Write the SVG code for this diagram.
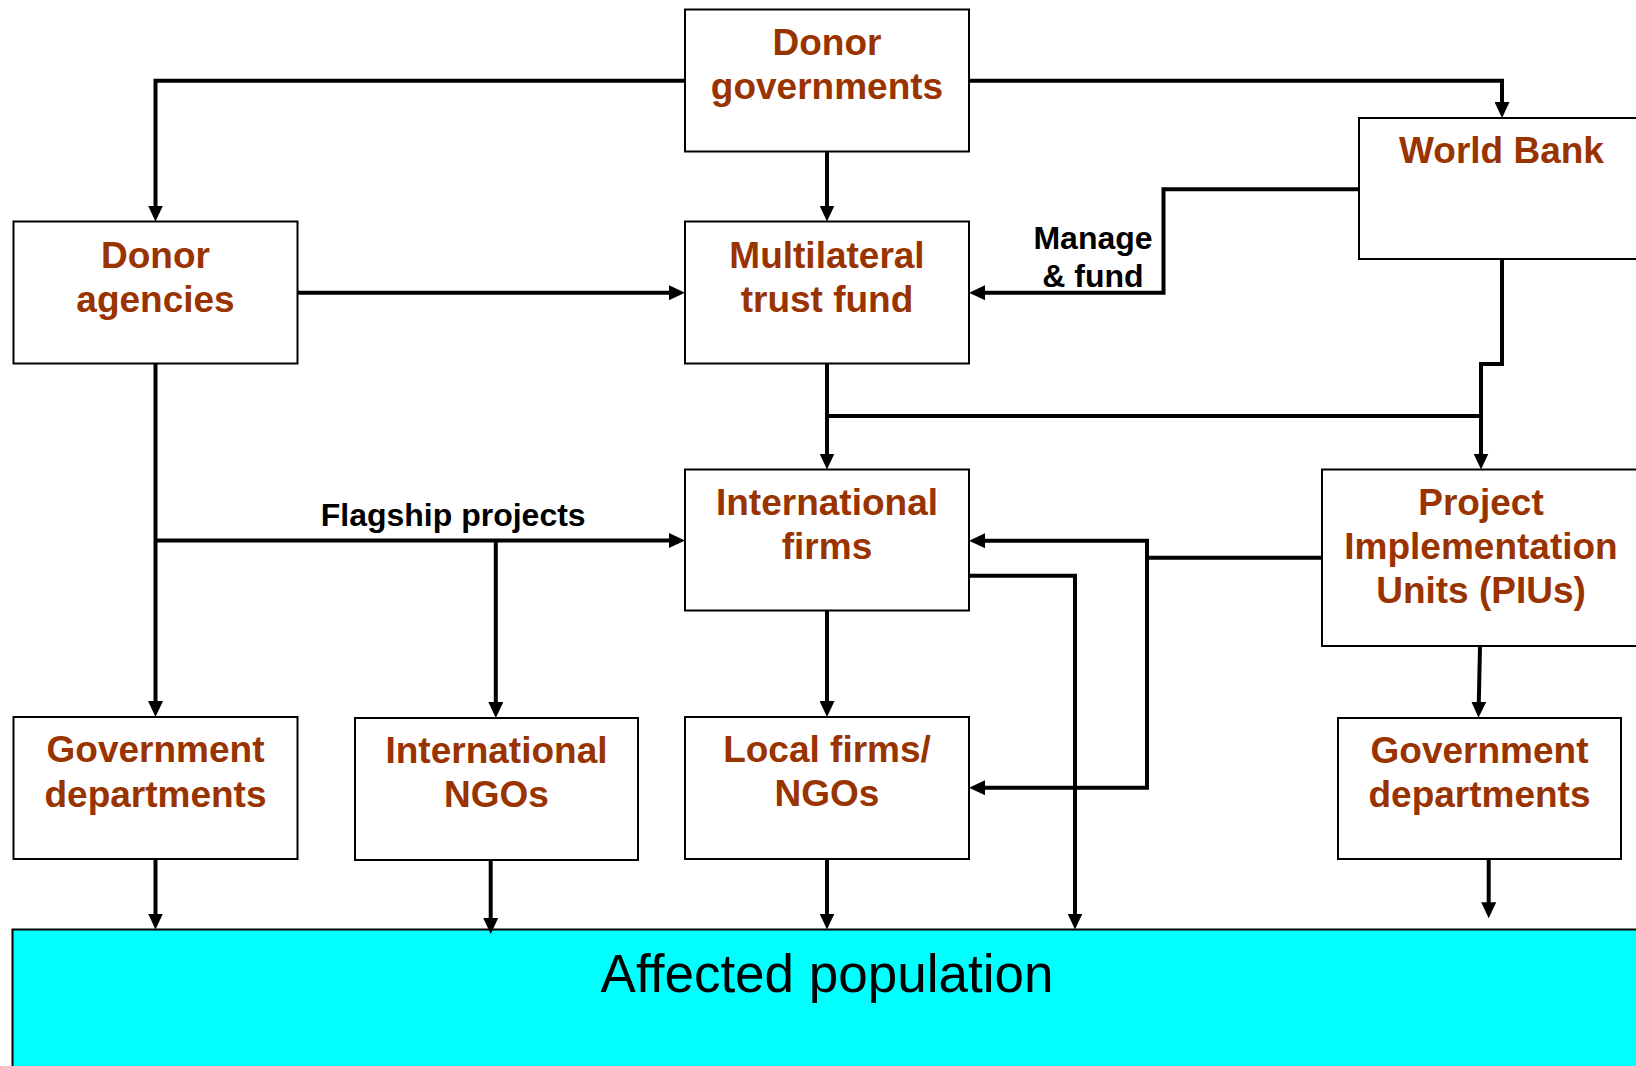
<svg xmlns="http://www.w3.org/2000/svg" width="1636" height="1066" viewBox="0 0 1636 1066">
  <style>
    .box { fill: #ffffff; stroke: #000000; stroke-width: 2; }
    .name { font-family: "Liberation Sans", Arial, sans-serif; font-weight: bold; font-size: 37px; fill: #993300; text-anchor: middle; }
    .lbl { font-family: "Liberation Sans", Arial, sans-serif; font-weight: bold; font-size: 32px; fill: #000000; text-anchor: middle; }
    .pop { font-family: "Liberation Sans", Arial, sans-serif; font-size: 53px; fill: #000000; text-anchor: middle; }
    .wire { fill: none; stroke: #000000; stroke-width: 4; stroke-linejoin: miter; }
    .arr { marker-end: url(#head); }
  </style>
  <defs>
    <marker id="head" viewBox="0 0 16 15" refX="10" refY="7.5" markerWidth="16" markerHeight="15" markerUnits="userSpaceOnUse" orient="auto">
      <path d="M0,0 L16,7.5 L0,15 z" fill="#000000"/>
    </marker>
  </defs>

  <rect width="1636" height="1066" fill="#ffffff"/>

  <!-- population band along the bottom -->
  <g id="affected-population">
    <rect x="12.5" y="929.5" width="1640" height="150" fill="#00ffff" stroke="#000000" stroke-width="2"/>
    <text class="pop" x="827" y="991.5">Affected population</text>
  </g>

  <!-- connectors -->
  <g id="connectors">
    <path class="wire arr" d="M685,80.7 H155.5 V215.5"/>
    <path class="wire arr" d="M969,80.7 H1502 V112"/>
    <path class="wire arr" d="M827,151.5 V215.5"/>
    <path class="wire arr" d="M297.5,292.7 H679"/>
    <path class="wire arr" d="M1360,189.3 H1163.5 V292.7 H975"/>
    <path class="wire arr" d="M1502,259 V364 H1481 V463.5"/>
    <path class="wire arr" d="M827,363.5 V463.5"/>
    <path class="wire" d="M827,416 H1481"/>
    <path class="wire arr" d="M155.5,363.5 V711"/>
    <path class="wire arr" d="M155.5,540.5 H679"/>
    <path class="wire arr" d="M495.8,540.5 V712"/>
    <path class="wire arr" d="M1322,557.7 H1147 V540.7 H975"/>
    <path class="wire arr" d="M1147,557.7 V787.7 H975"/>
    <path class="wire arr" d="M969,575.7 H1075 V923.5"/>
    <path class="wire arr" d="M827,610.5 V711"/>
    <path class="wire arr" d="M1480,646 L1478.6,711.7"/>
    <path class="wire arr" d="M155.5,859 V923.5"/>
    <path class="wire arr" d="M490.7,860 V928"/>
    <path class="wire arr" d="M827,859 V923.5"/>
    <path class="wire arr" d="M1488.7,859 V912.3"/>
    <text class="lbl" x="1093" y="249.3">Manage</text>
    <text class="lbl" x="1093" y="286.7">&amp; fund</text>
    <text class="lbl" x="453.2" y="526">Flagship projects</text>
  </g>

  <g id="donor-governments">
    <rect class="box" x="685" y="9.5" width="284" height="142"/>
    <text class="name" x="827" y="54.5">Donor</text>
    <text class="name" x="827" y="98.5">governments</text>
  </g>

  <g id="world-bank">
    <rect class="box" x="1359" y="118" width="290" height="141"/>
    <text class="name" x="1501.5" y="163.3">World Bank</text>
  </g>

  <g id="donor-agencies">
    <rect class="box" x="13.5" y="221.5" width="284" height="142"/>
    <text class="name" x="155.5" y="267.5">Donor</text>
    <text class="name" x="155.5" y="311.5">agencies</text>
  </g>

  <g id="multilateral-trust-fund">
    <rect class="box" x="685" y="221.5" width="284" height="142"/>
    <text class="name" x="827" y="267.5">Multilateral</text>
    <text class="name" x="827" y="311.5">trust fund</text>
  </g>

  <g id="international-firms">
    <rect class="box" x="685" y="469.5" width="284" height="141"/>
    <text class="name" x="827" y="515">International</text>
    <text class="name" x="827" y="558.5">firms</text>
  </g>

  <g id="pius">
    <rect class="box" x="1322" y="469.5" width="320" height="176.5"/>
    <text class="name" x="1481" y="515">Project</text>
    <text class="name" x="1481" y="559">Implementation</text>
    <text class="name" x="1481" y="603">Units (PIUs)</text>
  </g>

  <g id="government-departments-left">
    <rect class="box" x="13.5" y="717" width="284" height="142"/>
    <text class="name" x="155.5" y="761.7">Government</text>
    <text class="name" x="155.5" y="806.5">departments</text>
  </g>

  <g id="international-ngos">
    <rect class="box" x="355" y="718" width="283" height="142"/>
    <text class="name" x="496.5" y="762.7">International</text>
    <text class="name" x="496.5" y="807.3">NGOs</text>
  </g>

  <g id="local-firms-ngos">
    <rect class="box" x="685" y="717" width="284" height="142"/>
    <text class="name" x="827" y="762">Local firms/</text>
    <text class="name" x="827" y="806">NGOs</text>
  </g>

  <g id="government-departments-right">
    <rect class="box" x="1338" y="718" width="283" height="141"/>
    <text class="name" x="1479.5" y="762.7">Government</text>
    <text class="name" x="1479.5" y="807.3">departments</text>
  </g>
</svg>
